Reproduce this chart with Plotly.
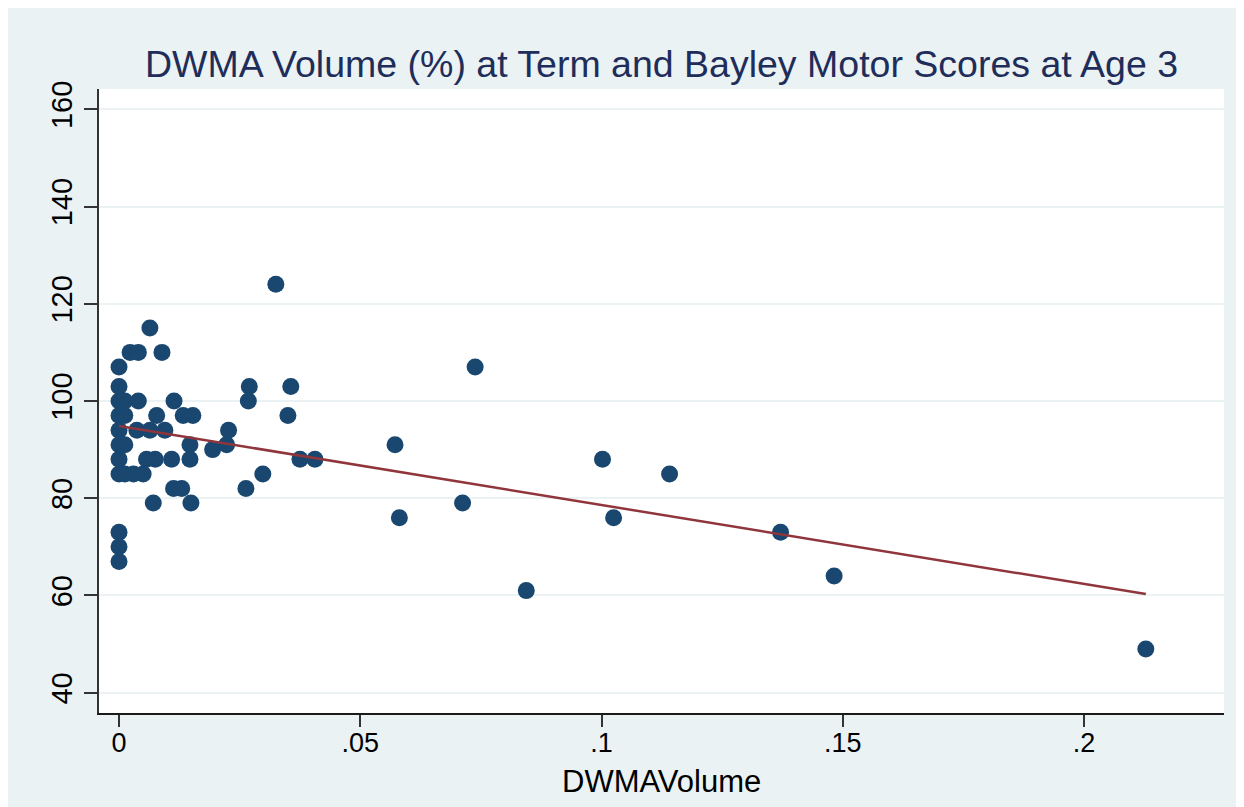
import plotly.graph_objects as go

# ---- data ----
dwma_volume = [
    0.0, 0.0, 0.0, 0.0, 0.0, 0.0, 0.0, 0.0, 0.0, 0.0, 0.0,
    0.0012, 0.0012, 0.0012, 0.0012,
    0.0040, 0.0078, 0.0133, 0.0153,
    0.0037, 0.0064, 0.0095, 0.0227,
    0.0147, 0.0223, 0.0572,
    0.0194,
    0.0057, 0.0075, 0.0109, 0.0147, 0.0375, 0.0406, 0.1002,
    0.0030, 0.0050, 0.0298, 0.1141,
    0.0113, 0.0130, 0.0263,
    0.0071, 0.0149, 0.0712,
    0.0581, 0.1025,
    0.1371, 0.1482, 0.0844, 0.2128,
    0.0325, 0.0064,
    0.0023, 0.0040, 0.0089,
    0.0738,
    0.0270, 0.0356,
    0.0114, 0.0268,
    0.0350,
]
motor_score = [
    107, 103, 100, 97, 94, 91, 88, 85, 73, 70, 67,
    100, 97, 91, 85,
    100, 97, 97, 97,
    94, 94, 94, 94,
    91, 91, 91,
    90,
    88, 88, 88, 88, 88, 88, 88,
    85, 85, 85, 85,
    82, 82, 82,
    79, 79, 79,
    76, 76,
    73, 64, 61, 49,
    124, 115,
    110, 110, 110,
    107,
    103, 103,
    100, 100,
    97,
]

# fitted line (linear fit shown in the reference)
fit_intercept = 94.85
fit_slope = -162.4

x_tick_vals = [0, 0.05, 0.1, 0.15, 0.2]
x_tick_text = ["0", ".05", ".1", ".15", ".2"]
y_tick_vals = [40, 60, 80, 100, 120, 140, 160]
y_tick_text = ["40", "60", "80", "100", "120", "140", "160"]

title_text = "DWMA Volume (%) at Term and Bayley Motor Scores at Age 3"
x_title = "DWMAVolume"

# ---- styling ----
BG = "#eaf2f3"
NAVY = "#1a476f"
MAROON = "#90353b"
FONT = "Liberation Sans, Arial, sans-serif"

fit_x = [min(dwma_volume), max(dwma_volume)]
fit_y = [fit_intercept + fit_slope * v for v in fit_x]

fig = go.Figure()
fig.add_trace(go.Scatter(
    x=dwma_volume, y=motor_score, mode="markers",
    marker=dict(color=NAVY, size=17, line=dict(width=0)),
    showlegend=False, hoverinfo="x+y",
))
fig.add_trace(go.Scatter(
    x=fit_x, y=fit_y, mode="lines",
    line=dict(color=MAROON, width=2.5),
    showlegend=False,
))

W, H = 1244, 807
L, R, T, B = 91, 28, 81, 102
ph = H - T - B

def px_y(p):
    return (H - B - p) / ph

fig.update_layout(
    width=W, height=H,
    margin=dict(l=L, r=R, t=T, b=B, pad=0),
    paper_bgcolor=BG, plot_bgcolor="white",
    font=dict(family=FONT, color="black"),
    xaxis=dict(
        range=[-0.00415, 0.229],
        tickvals=x_tick_vals, ticktext=x_tick_text,
        showgrid=False, zeroline=False,
        showline=True, linecolor="#1a1a1a", linewidth=2,
        ticks="outside", ticklen=12, tickwidth=2, tickcolor="#333333",
        ticklabelstandoff=-7,
        tickfont=dict(size=27, family=FONT, color="black"),
    ),
    yaxis=dict(
        range=[35.83, 164.17],
        tickvals=y_tick_vals, ticktext=y_tick_text,
        tickangle=-90,
        showgrid=True, gridcolor=BG, gridwidth=2,
        zeroline=False,
        showline=True, linecolor="#333333", linewidth=2,
        ticks="outside", ticklen=13, tickwidth=2, tickcolor="#333333",
        tickfont=dict(size=29, family=FONT, color="black"),
    ),
    annotations=[
        dict(text=title_text, xref="paper", yref="paper",
             x=0.5, y=px_y(56), xanchor="center", yanchor="middle",
             showarrow=False,
             font=dict(size=37.5, family=FONT, color="#1f2d5a")),
        dict(text=x_title, xref="paper", yref="paper",
             x=0.5, y=px_y(773), xanchor="center", yanchor="middle",
             showarrow=False,
             font=dict(size=31, family=FONT, color="black")),
    ],
)

fig.write_html("out.html")
